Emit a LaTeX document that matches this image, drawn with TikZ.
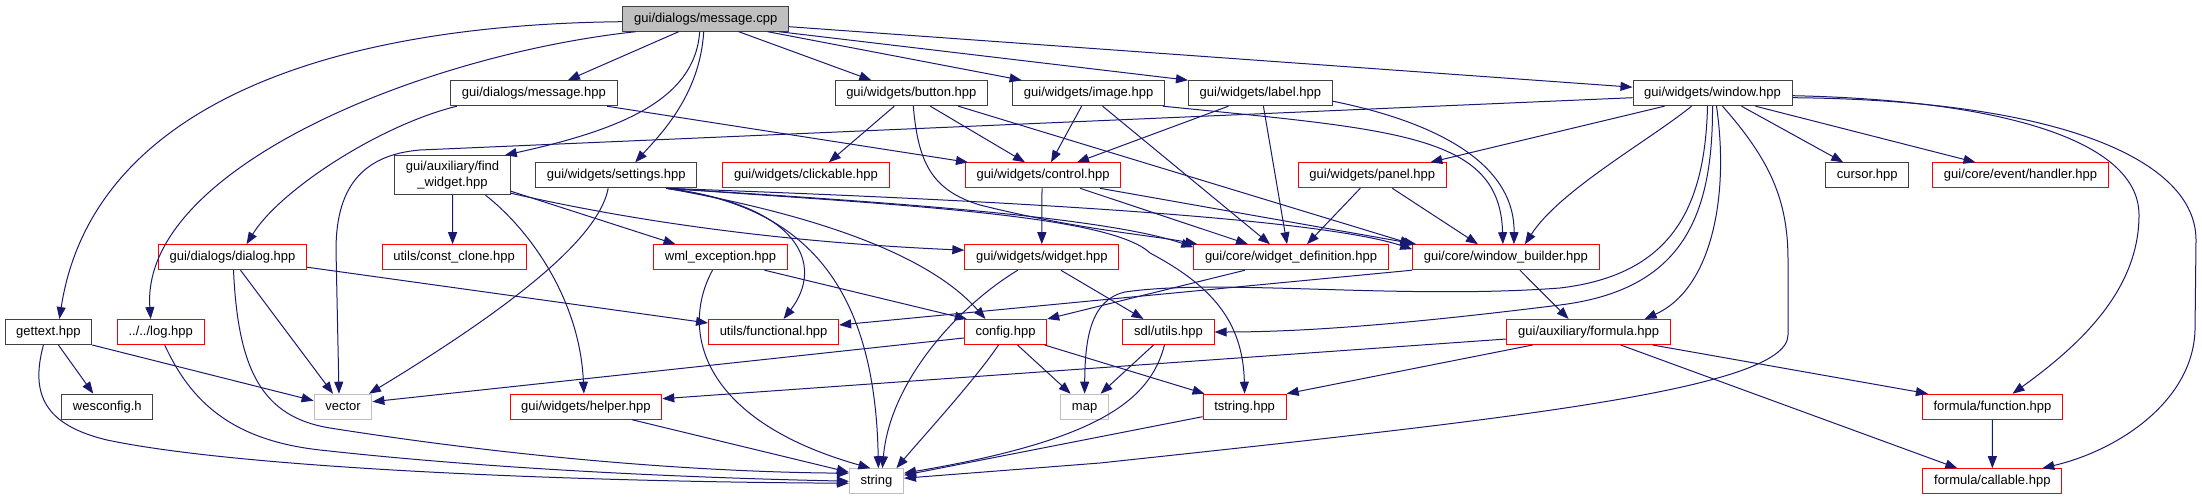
\documentclass[tikz,border=0pt]{standalone}
\usepackage{fontspec}
\newfontfamily\graphfont{Liberation Sans}
\usetikzlibrary{arrows.meta}
\definecolor{edgeblue}{HTML}{191970}
\definecolor{boxdark}{HTML}{404040}
\definecolor{boxgrey}{HTML}{BFBFBF}

\begin{document}
\begin{tikzpicture}[x=1pt, y=-1pt,
    >={Triangle[length=12pt,width=9pt]},
    filebox/.style={draw=boxdark, fill=white, line width=1pt, inner xsep=11.2pt, inner ysep=0pt,
        minimum height=25pt, font=\graphfont\fontsize{13}{16}\selectfont},
    hdr/.style={filebox, text height=9.4pt, text depth=2.7pt},
    rootfile/.style={hdr, fill=boxgrey},
    cutfile/.style={hdr, draw=red},
    sysfile/.style={hdr, draw=boxgrey},
    dep/.style={->, draw=edgeblue, line width=1pt}]
    \useasboundingbox (0,0) rectangle (2202,500);

    \node (cpp) at (705.7,18.7) [rootfile] {gui/dialogs/message.cpp};
    \node (msghpp) at (533.9,93.2) [hdr] {gui/dialogs/message.hpp};
    \node (button) at (911.3,93.2) [hdr] {gui/widgets/button.hpp};
    \node (image) at (1088.6,93.2) [hdr] {gui/widgets/image.hpp};
    \node (label) at (1260.4,93.2) [hdr] {gui/widgets/label.hpp};
    \node (window) at (1712.5,93.2) [hdr] {gui/widgets/window.hpp};
    \node (findw) at (452.5,175.2) [filebox, align=center, minimum height=39pt] {gui/auxiliary/find\\\_widget.hpp};
    \node (settings) at (616.2,175.3) [hdr] {gui/widgets/settings.hpp};
    \node (clickable) at (805.9,175.3) [cutfile] {gui/widgets/clickable.hpp};
    \node (control) at (1043,175.3) [cutfile] {gui/widgets/control.hpp};
    \node (panel) at (1372.3,175.3) [cutfile] {gui/widgets/panel.hpp};
    \node (cursor) at (1867.2,175.3) [hdr] {cursor.hpp};
    \node (handler) at (2020.5,175.3) [cutfile] {gui/core/event/handler.hpp};
    \node (dialog) at (232.5,257.2) [cutfile] {gui/dialogs/dialog.hpp};
    \node (constclone) at (454.1,257.2) [cutfile] {utils/const\_clone.hpp};
    \node (wmlexc) at (720.5,257.2) [cutfile] {wml\_exception.hpp};
    \node (widget) at (1041.8,257.2) [cutfile] {gui/widgets/widget.hpp};
    \node (wdef) at (1291,257.2) [cutfile] {gui/core/widget\_definition.hpp};
    \node (wbuilder) at (1505.9,257.2) [cutfile] {gui/core/window\_builder.hpp};
    \node (gettext) at (48.4,332) [hdr] {gettext.hpp};
    \node (log) at (160.7,332) [cutfile] {../../log.hpp};
    \node (functional) at (773.6,332) [cutfile] {utils/functional.hpp};
    \node (config) at (1005.5,332) [cutfile] {config.hpp};
    \node (sdlutils) at (1168.5,332) [cutfile] {sdl/utils.hpp};
    \node (formula) at (1588.6,332) [cutfile] {gui/auxiliary/formula.hpp};
    \node (wesconfig) at (107.3,406.7) [hdr] {wesconfig.h};
    \node (vector) at (343,406.7) [sysfile] {vector};
    \node (helper) at (585.9,406.7) [cutfile] {gui/widgets/helper.hpp};
    \node (map) at (1084.6,406.7) [sysfile] {map};
    \node (tstring) at (1244.6,406.7) [cutfile] {tstring.hpp};
    \node (function) at (1992.5,406.7) [cutfile] {formula/function.hpp};
    \node (string) at (876.4,481.2) [sysfile] {string};
    \node (callable) at (1992.3,481.2) [cutfile] {formula/callable.hpp};

    % message.cpp
    \draw[dep] ([yshift=-3pt]cpp.west) .. controls (300,25) and (90,120) .. ([xshift=11pt]gettext.north);
    \draw[dep] ([xshift=-70pt]cpp.south) .. controls (420,55) and (140,170) .. ([xshift=-10pt]log.north);
    \draw[dep] ([xshift=-27pt]cpp.south) -- ([xshift=34pt]msghpp.north);
    \draw[dep] ([xshift=-6pt]cpp.south) .. controls (695,100) and (620,130) .. ([xshift=-6pt]findw.north east);
    \draw[dep] ([xshift=-2pt]cpp.south) .. controls (700,95) and (660,135) .. ([xshift=19pt]settings.north);
    \draw[dep] ([xshift=33pt]cpp.south) -- ([xshift=-40pt]button.north);
    \draw[dep] ([xshift=62pt]cpp.south) -- ([xshift=-67pt]image.north);
    \draw[dep] ([xshift=-10pt]cpp.south east) -- (label.north west);
    \draw[dep] ([yshift=-8pt]cpp.east) -- ([yshift=6pt]window.west);

    \draw[dep] ([xshift=-77pt]msghpp.south) .. controls (380,125) and (280,190) .. ([xshift=14pt]dialog.north);
    \draw[dep] ([xshift=73pt]msghpp.south) -- ([xshift=-75pt]control.north);

    \draw[dep] ([xshift=-17pt]button.south) -- ([xshift=23pt]clickable.north);
    \draw[dep] ([xshift=19pt]button.south) -- ([xshift=-18pt]control.north);
    \draw[dep] ([xshift=2pt]button.south) .. controls (918,160) and (930,190) .. (980,205)
        .. controls (1080,230) and (1150,235) .. ([xshift=4pt]wdef.north west);
    \draw[dep] ([xshift=47pt]button.south) -- (wbuilder.north west);

    \draw[dep] ([xshift=-7pt]image.south) -- ([xshift=8pt]control.north);
    \draw[dep] ([xshift=14pt]image.south) -- ([xshift=-21pt]wdef.north);
    \draw[dep] ([xshift=-2pt]image.south east) .. controls (1400,130) and (1500,135) .. ([xshift=-3pt]wbuilder.north);

    \draw[dep] ([xshift=-32pt]label.south) -- ([xshift=34pt]control.north);
    \draw[dep] ([xshift=3pt]label.south) -- ([xshift=-4pt]wdef.north);
    \draw[dep] ([yshift=-8pt]label.east) .. controls (1450,125) and (1515,170) .. ([xshift=8pt]wbuilder.north);

    % window.hpp
    \draw[dep] ([yshift=-4.5pt]window.west) -- (420,150) .. controls (360,155) and (336,190) .. (336,250)
        -- ([xshift=-4pt]vector.north);
    \draw[dep] ([xshift=-48pt]window.south) -- ([xshift=58pt]panel.north);
    \draw[dep] ([xshift=-21pt]window.south) .. controls (1650,140) and (1560,190) .. ([xshift=19pt]wbuilder.north);
    \draw[dep] ([xshift=-5pt]window.south) .. controls (1705,210) and (1670,275) .. (1560,288)
        .. controls (1400,300) and (1220,278) .. (1125,292) .. controls (1090,300) and (1085,340) .. (map.north);
    \draw[dep] (window.south) .. controls (1713,220) and (1680,290) .. (1560,305)
        .. controls (1400,325) and (1300,332) .. (sdlutils.east);
    \draw[dep] ([xshift=4pt]window.south) .. controls (1730,200) and (1710,290) .. ([xshift=56pt]formula.north);
    \draw[dep] ([xshift=10pt]window.south) .. controls (1770,160) and (1788,200) .. (1788,260) -- (1788,335)
        .. controls (1788,390) and (1500,420) .. (1100,463) -- ([yshift=3pt]string.east);
    \draw[dep] ([xshift=29pt]window.south) -- ([xshift=-24pt]cursor.north);
    \draw[dep] ([xshift=43pt]window.south) -- ([xshift=-45pt]handler.north);
    \draw[dep] ([yshift=-2.5pt]window.east) .. controls (2000,100) and (2139,140) .. (2139,215)
        .. controls (2139,290) and (2080,345) .. ([xshift=20pt]function.north);
    \draw[dep] ([yshift=-4.5pt]window.east) .. controls (2060,100) and (2196,160) .. (2196,240) -- (2195,330)
        .. controls (2193,400) and (2120,450) .. ([xshift=50pt]callable.north);

    \draw[dep] ([xshift=-12pt]panel.south) -- ([xshift=16pt]wdef.north);
    \draw[dep] ([xshift=20pt]panel.south) -- ([xshift=-28pt]wbuilder.north);

    \draw[dep] ([xshift=-1pt]control.south) -- (widget.north);
    \draw[dep] ([xshift=37pt]control.south) -- ([xshift=-43pt]wdef.north);
    \draw[dep] ([xshift=57pt]control.south) -- ([xshift=4pt]wbuilder.north west);

    % find_widget.hpp and settings.hpp
    \draw[dep] (findw.south) -- ([xshift=-1.5pt]constclone.north);
    \draw[dep] ([yshift=-16pt]findw.east) -- ([xshift=-45pt]wmlexc.north);
    \draw[dep] ([yshift=-18pt]findw.east) .. controls (650,225) and (800,243) .. ([yshift=7pt]widget.west);
    \draw[dep] ([xshift=33pt]findw.south) .. controls (530,230) and (580,300) .. ([xshift=-2pt]helper.north);

    \draw[dep] ([xshift=-8pt]settings.south) .. controls (600,230) and (540,290) .. ([xshift=26pt]vector.north);
    \draw[dep] ([xshift=50pt]settings.south) .. controls (800,205) and (825,265) .. ([xshift=10pt]functional.north);
    \draw[dep] ([xshift=50pt]settings.south) .. controls (800,205) and (875,280) .. ([xshift=2pt]string.north);
    \draw[dep] ([xshift=50pt]settings.south) .. controls (800,212) and (925,250) .. ([xshift=-20pt]config.north);
    \draw[dep] ([xshift=50pt]settings.south) .. controls (850,200) and (1100,215) .. ([yshift=-3pt]wdef.north west);
    \draw[dep] ([xshift=50pt]settings.south) .. controls (850,195) and (1300,212) .. ([yshift=-5pt]wbuilder.north west);
    \draw[dep] ([xshift=50pt]settings.south) .. controls (900,205) and (1110,215) .. (1150,253)
        .. controls (1210,285) and (1243,320) .. (tstring.north);

    \draw[dep] ([xshift=-8pt]wmlexc.south) .. controls (680,330) and (700,420) .. ([xshift=-6pt]string.north);
    \draw[dep] ([xshift=44pt]wmlexc.south) -- ([xshift=3pt]config.north west);
    \draw[dep] ([xshift=-24pt]widget.south) .. controls (960,305) and (890,380) .. ([xshift=6pt]string.north);
    \draw[dep] ([xshift=19pt]widget.south) -- ([xshift=-25pt]sdlutils.north);
    \draw[dep] ([xshift=-46pt]wdef.south) -- (config.north east);
    \draw[dep] (wbuilder.south west) -- ([yshift=7pt]functional.east);
    \draw[dep] ([xshift=14pt]wbuilder.south) -- ([xshift=-20pt]formula.north);

    % lower rows
    \draw[dep] ([xshift=8pt]dialog.south) -- ([xshift=-10pt]vector.north);
    \draw[dep] ([xshift=1pt]dialog.south) .. controls (238,370) and (262,417) .. (330,428)
        .. controls (520,458) and (700,472) .. ([yshift=8pt]string.west);
    \draw[dep] ([yshift=-10pt]dialog.east) -- ([yshift=9pt]functional.west);

    \draw[dep] ([xshift=10pt]gettext.south) -- ([xshift=-14pt]wesconfig.north);
    \draw[dep] (gettext.south east) -- ([yshift=6pt]vector.west);
    \draw[dep] ([xshift=-5pt]gettext.south) .. controls (30,395) and (45,425) .. (107,440)
        .. controls (250,470) and (600,482) .. ([yshift=-2pt]string.west);
    \draw[dep] ([xshift=4pt]log.south) .. controls (190,400) and (230,440) .. (320,450)
        .. controls (500,470) and (700,478) .. (string.west);

    \draw[dep] ([yshift=-6pt]config.west) -- ([yshift=5pt]vector.east);
    \draw[dep] ([xshift=12pt]config.south) -- ([xshift=-14pt]map.north);
    \draw[dep] ([xshift=-7pt]config.south) .. controls (975,380) and (920,440) .. ([xshift=20pt]string.north);
    \draw[dep] ([xshift=39pt]config.south) -- ([xshift=2pt]tstring.north west);

    \draw[dep] ([xshift=-15pt]sdlutils.south) -- ([xshift=16pt]map.north);
    \draw[dep] ([xshift=-4pt]sdlutils.south) .. controls (1150,400) and (1100,440) .. ([yshift=8pt]string.east);
    \draw[dep] ([yshift=-10pt]tstring.west) -- ([yshift=6pt]string.east);

    \draw[dep] ([yshift=-7pt]formula.west) -- ([yshift=8pt]helper.east);
    \draw[dep] ([xshift=-56pt]formula.south) -- (tstring.north east);
    \draw[dep] ([xshift=64pt]formula.south) -- ([xshift=6pt]function.north west);
    \draw[dep] ([xshift=32pt]formula.south) -- ([xshift=-35pt]callable.north);
    \draw[dep] (function) -- (callable);

    \draw[dep] ([xshift=46pt]helper.south) -- ([yshift=9pt]string.west);
\end{tikzpicture}
\end{document}
